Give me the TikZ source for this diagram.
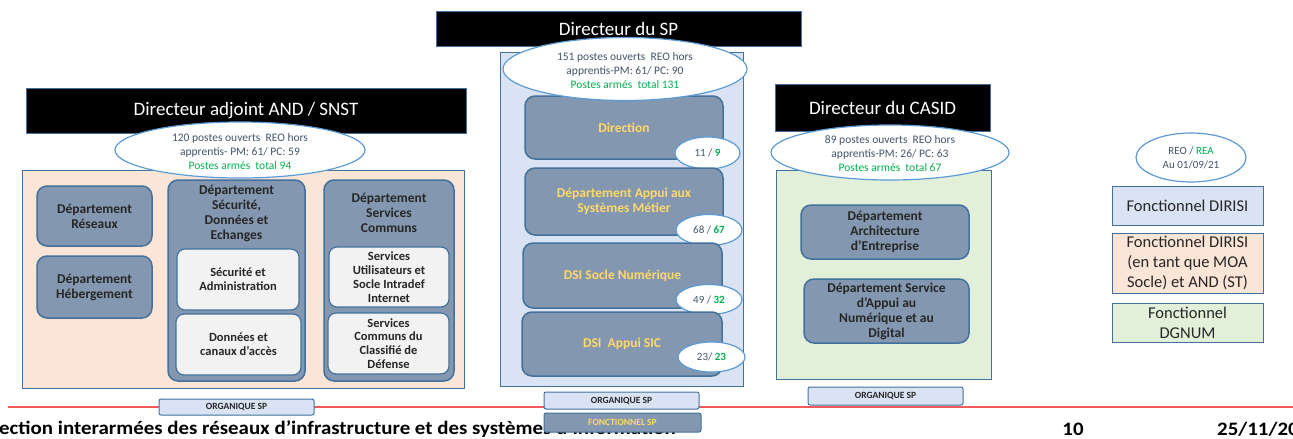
\documentclass[tikz,border=0pt]{standalone}
\usepackage{fontspec}
\setmainfont{Carlito}
\usetikzlibrary{shapes.geometric}
\definecolor{slate}{HTML}{8497B0}
\definecolor{edge}{HTML}{41719C}
\definecolor{peach}{HTML}{FBE5D6}
\definecolor{lblue}{HTML}{DAE3F3}
\definecolor{lgreen}{HTML}{E2F0D9}
\definecolor{inner}{HTML}{F2F2F2}
\definecolor{ellb}{HTML}{5B9BD5}
\definecolor{txtb}{HTML}{44546A}
\definecolor{grn}{HTML}{00B050}
\definecolor{gold}{HTML}{FFD966}
\definecolor{redline}{HTML}{F05A5A}
\definecolor{dark}{HTML}{262626}
\newfontfamily\footfont[FakeStretch=1.1]{Carlito}
\begin{document}
\begin{tikzpicture}[x=1pt,y=-1pt,
  wh/.style 2 args={minimum width=#1pt,minimum height=#2pt,inner sep=0pt},
  header/.style={fill=black,draw=edge,line width=0.6pt,text=white,font=\fontsize{19}{22}\selectfont},
  group/.style={draw=edge,line width=1pt},
  dept/.style={fill=slate,draw=edge,line width=1.5pt,rounded corners=10pt,align=center,text=dark,font=\bfseries\fontsize{13.5}{15}\selectfont},
  ydept/.style={dept,text=gold},
  sub/.style={fill=inner,draw=edge,line width=1.2pt,rounded corners=8pt,align=center,text=dark,font=\bfseries\fontsize{12.5}{13.8}\selectfont},
  oval/.style={ellipse,fill=white,draw=ellb,line width=1.2pt},
  ovtext/.style={align=center,inner sep=0pt,text=txtb,font=\fontsize{11.5}{14}\selectfont},
  count/.style={ellipse,fill=white,draw=ellb,line width=1.2pt,text=txtb,font=\fontsize{11}{13}\selectfont,inner sep=0pt},
  tag/.style={fill=lblue,draw=edge,line width=1pt,rounded corners=2pt,text=dark,font=\bfseries\fontsize{9.5}{11}\selectfont},
  legend/.style={draw=edge,line width=1pt,align=center,text=dark,font=\fontsize{16.5}{20}\selectfont,inner sep=0pt},
  foot/.style={inner sep=0pt,font=\footfont\bfseries\fontsize{19}{21}\selectfont}
]
\useasboundingbox (0,0) rectangle (1293,439);
\clip (0,0) rectangle (1293,439);
\fill[white] (0,0) rectangle (1293,439);

% footer
\draw[redline,line width=1.8pt] (8,407) -- (1293,407);
\node[foot,anchor=west] (footer) at (-1,429.5) {ection interarmées des réseaux d’infrastructure et des systèmes d’information};
\node[foot] (page) at (1073,429.5) {10};
\node[foot,anchor=west] (date) at (1217,429.5) {25/11/20};

% ---------- left group ----------
\node[group,fill=peach,wh={442}{218}] (bgL) at (243,279) {};
\node[header,wh={440}{45}] (hdrL) at (246,110.5) {Directeur adjoint AND / SNST};
\node[oval,wh={250}{56}] (ellL) at (240,150) {};
\node[ovtext] (ellLt) at (240,152) {120 postes ouverts\ \ REO hors\\apprentis- PM: 61/ PC: 59\\\textcolor{grn}{Postes armés\ \ total 94}};
\node[dept,wh={115}{60}] (res) at (94.5,216) {Département\\Réseaux};
\node[dept,wh={115}{62}] (heb) at (94.5,287) {Département\\Hébergement};
\node[dept,wh={137}{201}] (sec) at (236.5,280.5) {};
\node[align=center,inner sep=0pt,text=dark,font=\bfseries\fontsize{13.5}{15}\selectfont] (secT) at (236.5,213.5) {Département\\Sécurité,\\Données et\\Echanges};
\node[sub,wh={122}{61}] (secadm) at (238,279.5) {Sécurité et\\Administration};
\node[sub,wh={125}{61}] (don) at (238.5,344.5) {Données et\\canaux d’accès};
\node[dept,wh={130}{201}] (serv) at (389,280.5) {};
\node[align=center,inner sep=0pt,text=dark,font=\bfseries\fontsize{13.5}{15}\selectfont] (servT) at (389,213) {Département\\Services\\Communs};
\node[sub,wh={120}{60}] (servU) at (389,277) {Services\\Utilisateurs et\\Socle Intradef\\Internet};
\node[sub,wh={121}{61}] (servC) at (388.5,343.5) {Services\\Communs du\\Classifié de\\Défense};
\node[tag,wh={155}{16}] (orgL) at (236.5,407) {ORGANIQUE SP};

% ---------- centre group ----------
\node[group,fill=lblue,wh={243}{334}] (bgC) at (621.5,219) {};
\node[header,wh={365}{35}] (hdrC) at (618.5,28.5) {Directeur du SP};
\node[ydept,wh={198}{63}] (dir) at (624,127.5) {Direction};
\node[oval,wh={244}{63}] (ellC) at (625,69) {};
\node[ovtext] (ellCt) at (625,70.5) {151 postes ouverts\ \ REO hors\\apprentis-PM: 61/ PC: 90\\\textcolor{grn}{Postes armés\ \ total 131}};
\node[count,wh={65}{32}] (c1) at (707.5,153) {11 / \textcolor{grn}{\bfseries 9}};
\node[ydept,wh={198}{67}] (asm) at (624,201.5) {Département Appui aux\\Systèmes Métier};
\node[count,wh={66}{31}] (c2) at (709,230) {68 / \textcolor{grn}{\bfseries 67}};
\node[ydept,wh={199}{65}] (soc) at (622.5,275.5) {DSI Socle Numérique};
\node[count,wh={66}{30}] (c3) at (709,299.5) {49 / \textcolor{grn}{\bfseries 32}};
\node[ydept,wh={200}{64}] (sic) at (622,344) {DSI\ \ Appui SIC};
\node[count,wh={67}{30}] (c4) at (711.5,357) {23/ \textcolor{grn}{\bfseries 23}};
\node[tag,wh={155}{17}] (orgC) at (621.5,400.5) {ORGANIQUE SP};
\node[tag,fill=slate,text=gold,wh={157}{19}] (foncC) at (622.5,422.5) {FONCTIONNEL SP};

% ---------- right group ----------
\node[group,fill=lgreen,wh={215}{209}] (bgR) at (883.5,274.5) {};
\node[header,wh={215}{47}] (hdrR) at (882.5,107.5) {Directeur du CASID};
\node[oval,wh={238}{55}] (ellR) at (890,152.5) {};
\node[ovtext] (ellRt) at (890,154) {89 postes ouverts\ \ REO hors\\apprentis-PM: 26/ PC: 63\\\textcolor{grn}{Postes armés\ \ total 67}};
\node[dept,wh={168}{54}] (arch) at (885,232) {Département\\Architecture\\d’Entreprise};
\node[dept,wh={165}{64}] (sadn) at (886.5,311) {Département Service\\d’Appui au\\Numérique et au\\Digital};
\node[tag,wh={155}{18}] (orgR) at (885.5,396) {ORGANIQUE SP};

% ---------- legend ----------
\node[oval,wh={110}{49}] (ellG) at (1191,157.5) {};
\node[ovtext,font=\fontsize{11}{14}\selectfont] (ellGt) at (1191,158) {REO / \textcolor{grn}{REA}\\Au 01/09/21};
\node[legend,fill=lblue,wh={151}{39}] (lg1) at (1187.5,205.5) {Fonctionnel DIRISI};
\node[legend,fill=peach,wh={151}{60}] (lg2) at (1187.5,263) {Fonctionnel DIRISI\\(en tant que MOA\\Socle) et AND (ST)};
\node[legend,fill=lgreen,wh={151}{39}] (lg3) at (1187.5,322.5) {Fonctionnel\\DGNUM};
\end{tikzpicture}
\end{document}
